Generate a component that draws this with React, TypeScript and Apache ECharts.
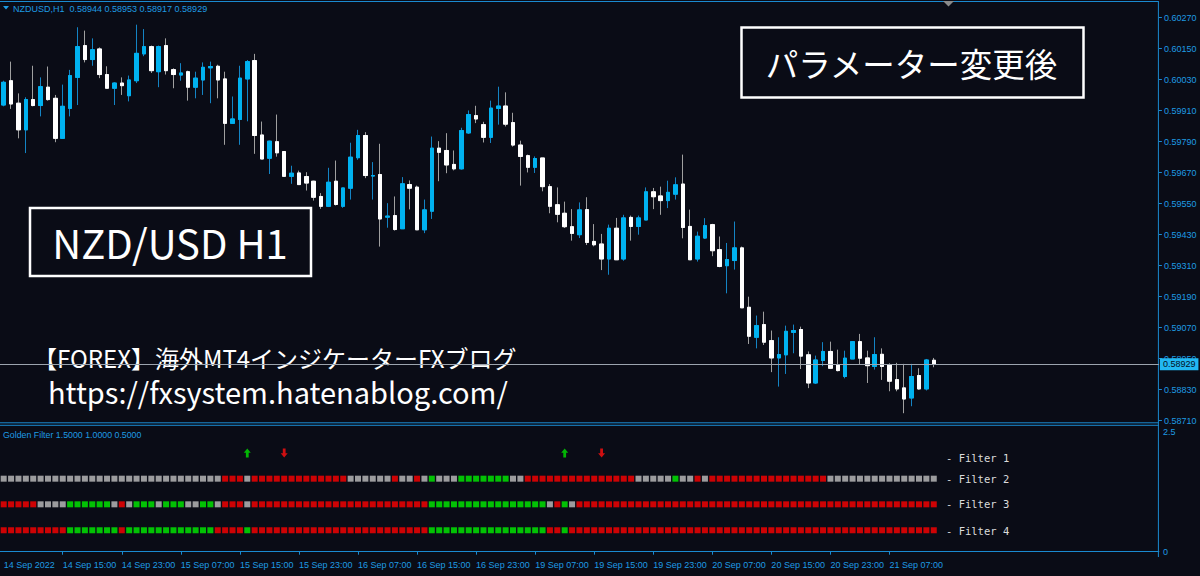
import React, { useEffect, useRef } from "react";
import * as echarts from "echarts";

// ---------- data ----------
const symbolName = "NZDUSD,H1";
const year = "2022";
const days = ["14 Sep", "15 Sep", "16 Sep", "19 Sep", "20 Sep", "21 Sep"];
const firstHour = 7;
const lastHour = 13;
const base = 0.5871;
const priceTickStep = 0.0012;
const priceTop = 0.6027;

const open = [
  0.59932, 0.60026, 0.59939, 0.59836, 0.59953, 0.5993, 0.60001, 0.59958, 0.59803, 0.59919,
  0.60039, 0.60162, 0.60108, 0.60149, 0.6005, 0.59997, 0.60017, 0.59968, 0.60026, 0.6013,
  0.60158, 0.60061, 0.60162, 0.60069, 0.60048, 0.60061, 0.60001, 0.60029, 0.60076, 0.60082,
  0.60033, 0.59861, 0.59876, 0.60033, 0.60104, 0.59816, 0.59726, 0.5979, 0.59752, 0.59656,
  0.59669, 0.59655, 0.59637, 0.59578, 0.5954, 0.59637, 0.5954, 0.5961, 0.59728, 0.59814,
  0.59657, 0.59663, 0.59498, 0.59504, 0.59453, 0.59624, 0.59614, 0.59449, 0.59521, 0.59765,
  0.59756, 0.59702, 0.59685, 0.59824, 0.59891, 0.59856, 0.59807, 0.59919, 0.59928, 0.59864,
  0.59777, 0.59736, 0.59691, 0.59727, 0.59616, 0.59546, 0.59513, 0.59461, 0.5943, 0.59527,
  0.59404, 0.59394, 0.59336, 0.59455, 0.59336, 0.59497, 0.59462, 0.59487, 0.59596, 0.5958,
  0.59562, 0.59587, 0.59626, 0.59462, 0.59336, 0.59417, 0.59469, 0.59372, 0.5931, 0.5933,
  0.59379, 0.59149, 0.59033, 0.59082, 0.5902, 0.58953, 0.58965, 0.59052, 0.59063, 0.58965,
  0.58856, 0.58943, 0.58978, 0.58927, 0.58881, 0.58949, 0.59016, 0.58953, 0.5892, 0.58967,
  0.58927, 0.58869, 0.58837, 0.58798, 0.58885, 0.58833, 0.58944,
];
const close = [
  0.6002, 0.59936, 0.59836, 0.59953, 0.5993, 0.60003, 0.59953, 0.59803, 0.59927, 0.60046,
  0.60158, 0.60108, 0.60146, 0.6005, 0.59997, 0.60017, 0.60007, 0.60029, 0.60132, 0.60158,
  0.60065, 0.60158, 0.60065, 0.6005, 0.60056, 0.60001, 0.60036, 0.60078, 0.60081, 0.60029,
  0.59861, 0.59878, 0.60036, 0.601, 0.59814, 0.59723, 0.59792, 0.59747, 0.59656, 0.59668,
  0.59624, 0.5963, 0.59575, 0.5954, 0.59633, 0.59547, 0.59611, 0.5973, 0.59814, 0.59659,
  0.59659, 0.59491, 0.59502, 0.5945, 0.59627, 0.5961, 0.59449, 0.59526, 0.59765, 0.59749,
  0.597, 0.59685, 0.59833, 0.59895, 0.59878, 0.59807, 0.5992, 0.59928, 0.59858, 0.59777,
  0.59733, 0.59691, 0.59725, 0.59616, 0.5954, 0.59509, 0.59461, 0.59435, 0.59526, 0.594,
  0.59391, 0.59336, 0.59455, 0.59333, 0.59495, 0.59462, 0.59495, 0.59596, 0.59577, 0.59562,
  0.59594, 0.59623, 0.59458, 0.59333, 0.59424, 0.59465, 0.59368, 0.59307, 0.59334, 0.59379,
  0.59147, 0.59037, 0.59078, 0.59014, 0.58953, 0.58966, 0.59056, 0.59059, 0.5896, 0.58856,
  0.58945, 0.58978, 0.58913, 0.58904, 0.58952, 0.59016, 0.58952, 0.58923, 0.58966, 0.5892,
  0.58863, 0.58833, 0.58794, 0.58881, 0.58833, 0.58945, 0.58929,
];
const high = [
  0.60026, 0.601, 0.59977, 0.59962, 0.60084, 0.60039, 0.60081, 0.59971, 0.60011, 0.60068,
  0.60233, 0.6022, 0.6019, 0.60155, 0.60082, 0.6002, 0.60039, 0.60046, 0.60243, 0.60226,
  0.60162, 0.60162, 0.6019, 0.60074, 0.60094, 0.60065, 0.60061, 0.60097, 0.601, 0.60088,
  0.60061, 0.59965, 0.60084, 0.60106, 0.6013, 0.59868, 0.59794, 0.59895, 0.59752, 0.59697,
  0.59678, 0.59672, 0.59639, 0.59591, 0.59689, 0.59717, 0.59611, 0.59786, 0.59836, 0.59827,
  0.59711, 0.59782, 0.59552, 0.59578, 0.59653, 0.5964, 0.5962, 0.59566, 0.5981, 0.59792,
  0.59823, 0.59756, 0.59844, 0.59911, 0.59929, 0.59867, 0.59949, 0.60003, 0.59981, 0.59902,
  0.59794, 0.5974, 0.59733, 0.59727, 0.59626, 0.59613, 0.59558, 0.59529, 0.59555, 0.59575,
  0.59471, 0.59433, 0.59469, 0.59495, 0.59507, 0.59504, 0.59504, 0.59613, 0.59611, 0.59616,
  0.59639, 0.59652, 0.5974, 0.59527, 0.59442, 0.59494, 0.59472, 0.59423, 0.59398, 0.59481,
  0.59384, 0.5919, 0.59117, 0.59132, 0.59059, 0.59033, 0.59078, 0.59082, 0.59074, 0.58978,
  0.58962, 0.59014, 0.59016, 0.58985, 0.58981, 0.59016, 0.59046, 0.58981, 0.59033, 0.5899,
  0.58932, 0.58934, 0.5893, 0.5893, 0.58913, 0.58949, 0.58953,
];
const low = [
  0.59927, 0.59917, 0.59803, 0.59746, 0.59927, 0.59888, 0.59949, 0.59788, 0.59801, 0.59888,
  0.59932, 0.60097, 0.60084, 0.60036, 0.59996, 0.59932, 0.59971, 0.59946, 0.60017, 0.60121,
  0.60056, 0.60001, 0.6005, 0.59997, 0.60026, 0.59949, 0.59958, 0.59971, 0.59939, 0.59958,
  0.59778, 0.5986, 0.59778, 0.59869, 0.59743, 0.59723, 0.59665, 0.59732, 0.59656, 0.59627,
  0.59624, 0.59601, 0.59562, 0.5953, 0.59537, 0.59543, 0.59534, 0.59566, 0.5972, 0.59649,
  0.59566, 0.59384, 0.59457, 0.59446, 0.59452, 0.59528, 0.59448, 0.59436, 0.59491, 0.59637,
  0.59668, 0.59679, 0.59682, 0.5982, 0.59862, 0.59787, 0.59785, 0.59856, 0.59849, 0.59771,
  0.5962, 0.59671, 0.59669, 0.59598, 0.59513, 0.59478, 0.59456, 0.59407, 0.59417, 0.5939,
  0.59385, 0.59293, 0.59275, 0.59332, 0.59329, 0.59407, 0.5943, 0.59487, 0.59529, 0.59507,
  0.59533, 0.59566, 0.59416, 0.59333, 0.59326, 0.59414, 0.59347, 0.59304, 0.59203, 0.59295,
  0.59147, 0.59007, 0.5899, 0.59003, 0.58898, 0.58842, 0.58891, 0.58971, 0.5891, 0.58836,
  0.58852, 0.58921, 0.5891, 0.58901, 0.58874, 0.58949, 0.58926, 0.58856, 0.58908, 0.58868,
  0.58824, 0.58824, 0.58739, 0.58766, 0.5883, 0.58827, 0.58917,
];

// Golden Filter states per bar: S = neutral (silver), G = up (green), R = down (red)
const filter2 = "SSSSSSSSSS SSSSSSSSSS SSSSSSSSSS RRRSRRRRRR RRRRRRRSSS SSSRSSRSGS SSGGGGGGGS SRRRRRRRRR RRRRRRSSSS SGSSRSRRRR RRRRRRRRRR RRSSSSSSSS SSSSSSS";
const filter3 = "RRRRRSSSSG GGGGGSRSGG GSGGGSSGGS RRRSRRRRRR RRRRRRRRRR RRRRRRRRGG GGGGGGGGGG GGGGSRGSRR RRRRRRRRRR RRRRRRRRRR RRRRRRRRRR RRRRRRRRRR RRRRRRR";
const filter4 = "RRRRRRRRRG GGGGGGRGGG GGGGGGGGGR RRRGRRRRRR RRRRRRRRRR RRRRRRRRGG GGGGGGGGGG GGGGRRGRRR RRRRRRRRRR RRRRRRRRRR RRRRRRRRRR RRRRRRRRRR RRRRRRR";
const filterLevels = [1.5, 1.0, 0.5];
const filter1Up = [33, 76];
const filter1Down = [38, 81];
const filter1Level = 2.0;
const filterNames = ["Filter 1", "Filter 2", "Filter 3", "Filter 4"];
const indicatorName = "Golden Filter";
const indicatorMax = 2.5;

const titleText = "パラメーター変更後";
const pairText = "NZD/USD H1";
const blogText = "【FOREX】海外MT4インジケーターFXブログ";
const urlText = "https://fxsystem.hatenablog.com/";

// ---------- derived ----------
const times: string[] = [];
days.forEach((d, k) => {
  const h0 = k === 0 ? firstHour : 0;
  const h1 = k === days.length - 1 ? lastHour : 23;
  for (let h = h0; h <= h1; h++) times.push(`${d} ${String(h).padStart(2, "0")}:00`);
});
const SLOTS = 157;
const slots = times.concat(Array.from({ length: SLOTS - times.length }, (_, i) => `~${i}`));
const toPts = (p: number) => Math.round((p - base) * 1e6) / 10;
const topPts = toPts(priceTop);
const intervalPts = Math.round(priceTickStep * 1e5);

const BG = "#0a0c16";
const BLUE = "#1e9be3";
const FRAME = "#1a8ad0";
const BULL = "#00b2f0";
const BULL_WICK = "#1484c4";
const BEAR = "#ffffff";
const BEAR_WICK = "#a0a0a0";
const stateColor: Record<string, string> = { S: "#c0c0c0", G: "#00f000", R: "#ff0000" };
const SMALL_FONT = "Liberation Sans, Arial, sans-serif";
const JP_FONT = "'Noto Sans CJK JP', 'Noto Sans', sans-serif";

const LEFT = -4.5;
const WIDTH = 1163.4;
const RIGHT_X = LEFT + WIDTH;

function buildOption(): any {
  const n = open.length;
  const wickData = open.map((o, i) => [toPts(o), toPts(close[i]), toPts(low[i]), toPts(high[i])]);
  const bodyData = open.map((o, i) => {
    const a = toPts(o);
    const c = toPts(close[i]);
    return [a, c, Math.min(a, c), Math.max(a, c)];
  });
  const last = n - 1;
  const lastClose = close[last];

  const rows = [filter2, filter3, filter4].map((s) => s.replace(/ /g, "").split(""));
  const rowOffsets = [-1.2, 0.5, 2.5];
  const filterSeries = rows.map((states, r) => ({
    type: "scatter",
    xAxisIndex: 1,
    yAxisIndex: 1,
    symbol: "rect",
    symbolSize: [6, 6],
    symbolOffset: [0, rowOffsets[r]],
    silent: true,
    data: states.map((s, i) => ({
      value: [i, filterLevels[r]],
      itemStyle: { color: stateColor[s] },
    })),
  }));

  const upArrow = "path://M4,0 L8,4.2 L5.6,4.2 L5.6,9 L2.4,9 L2.4,4.2 L0,4.2 Z";
  const downArrow = "path://M2.4,0 L5.6,0 L5.6,4.8 L8,4.8 L4,9 L0,4.8 L2.4,4.8 Z";

  const labelIdx = (idx: number) => idx === 0 || (idx % 8 === 0 && idx < times.length);
  const tickIdx = (idx: number) => idx > 0 && idx % 8 === 0 && idx < times.length;

  const header = `${symbolName}  ${[open[last], high[last], low[last], close[last]]
    .map((v) => v.toFixed(5))
    .join(" ")}`;
  const indHeader = `${indicatorName} ${filterLevels.map((v) => v.toFixed(4)).join(" ")}`;

  const line = (x1: number, y1: number, x2: number, y2: number) => ({
    type: "line",
    silent: true,
    shape: { x1, y1, x2, y2 },
    style: { stroke: FRAME, lineWidth: 1 },
  });
  const txt = (
    text: string,
    x: number,
    y: number,
    size: number,
    family: string,
    fill: string,
    align = "left"
  ) => ({
    type: "text",
    silent: true,
    x,
    y,
    style: {
      text,
      font: `${size}px ${family}`,
      fill,
      lineHeight: size,
      textAlign: align,
      align,
      textVerticalAlign: "middle",
      verticalAlign: "middle",
    },
  });

  const filterLabelY = [457.7, 478.5, 504.3, 530.5];

  return {
    animation: false,
    backgroundColor: BG,
    grid: [
      { left: LEFT, top: 17.7, width: WIDTH, height: 403 },
      { left: LEFT, top: 432, width: WIDTH, height: 119.7 },
    ],
    xAxis: [
      {
        type: "category",
        gridIndex: 0,
        data: slots,
        boundaryGap: true,
        show: false,
      },
      {
        type: "category",
        gridIndex: 1,
        data: slots,
        boundaryGap: true,
        position: "bottom",
        offset: 5,
        axisLine: { show: true, lineStyle: { color: FRAME, width: 1 } },
        axisTick: {
          show: true,
          alignWithLabel: true,
          interval: (idx: number) => tickIdx(idx),
          length: 3,
          lineStyle: { color: FRAME },
        },
        axisLabel: {
          interval: (idx: number) => labelIdx(idx),
          formatter: (v: string, idx: number) => (idx === 0 ? `${days[0]} ${year}` : v),
          align: "left",
          margin: 4,
          color: BLUE,
          fontFamily: SMALL_FONT,
          fontSize: 9,
        },
        splitLine: { show: false },
      },
    ],
    yAxis: [
      {
        type: "value",
        gridIndex: 0,
        position: "right",
        min: 0,
        max: topPts,
        interval: intervalPts,
        axisLine: { show: false },
        axisTick: { show: true, length: 3, lineStyle: { color: FRAME } },
        axisLabel: {
          margin: 5,
          color: BLUE,
          fontFamily: SMALL_FONT,
          fontSize: 9,
          formatter: (v: number) => (base + v / 1e5).toFixed(5),
        },
        splitLine: { show: false },
      },
      {
        type: "value",
        gridIndex: 1,
        position: "right",
        min: 0,
        max: indicatorMax,
        interval: indicatorMax,
        axisLine: { show: false },
        axisTick: { show: false },
        axisLabel: {
          margin: 4,
          color: BLUE,
          fontFamily: SMALL_FONT,
          fontSize: 9,
          formatter: (v: number) => String(v),
        },
        splitLine: { show: false },
      },
    ],
    series: [
      {
        type: "candlestick",
        xAxisIndex: 0,
        yAxisIndex: 0,
        barWidth: 4,
        silent: true,
        data: wickData,
        itemStyle: {
          color: BULL,
          color0: BEAR,
          borderColor: BULL_WICK,
          borderColor0: BEAR_WICK,
          borderWidth: 1,
        },
      },
      {
        type: "candlestick",
        xAxisIndex: 0,
        yAxisIndex: 0,
        barWidth: 4,
        silent: true,
        data: bodyData,
        itemStyle: {
          color: BULL,
          color0: BEAR,
          borderColor: BULL,
          borderColor0: BEAR,
          borderWidth: 1,
        },
        markLine: {
          silent: true,
          symbol: ["none", "none"],
          precision: 5,
          lineStyle: { color: "#9ca4ae", width: 1, type: "solid" },
          label: {
            show: true,
            position: "end",
            distance: 1,
            formatter: () => lastClose.toFixed(5),
            backgroundColor: "#22b8f2",
            color: "#04101c",
            fontFamily: SMALL_FONT,
            fontSize: 9,
            padding: [2, 3, 1, 3],
          },
          data: [{ yAxis: toPts(lastClose) }],
        },
      },
      ...filterSeries,
      {
        type: "scatter",
        xAxisIndex: 1,
        yAxisIndex: 1,
        symbol: upArrow,
        symbolSize: [7, 9],
        symbolOffset: [0, -3],
        silent: true,
        itemStyle: { color: "#00e000" },
        data: filter1Up.map((i) => [i, filter1Level]),
      },
      {
        type: "scatter",
        xAxisIndex: 1,
        yAxisIndex: 1,
        symbol: downArrow,
        symbolSize: [7, 9],
        symbolOffset: [0, -3],
        silent: true,
        itemStyle: { color: "#ff1010" },
        data: filter1Down.map((i) => [i, filter1Level]),
      },
    ],
    graphic: [
      line(0, 1.5, RIGHT_X, 1.5),
      line(0, 422.8, RIGHT_X, 422.8),
      line(0, 425.3, RIGHT_X, 425.3),
      line(RIGHT_X - 0.5, 1.5, RIGHT_X - 0.5, 557),
      {
        type: "polygon",
        silent: true,
        shape: { points: [[943, 1], [954, 1], [948.5, 6.5]] },
        style: { fill: "#8a8a8a" },
      },
      {
        type: "polygon",
        silent: true,
        shape: { points: [[3, 6], [9, 6], [6, 9.5]] },
        style: { fill: BLUE },
      },
      txt(header, 13, 8.5, 9, SMALL_FONT, BLUE),
      txt(indHeader, 3, 434.5, 8.8, SMALL_FONT, BLUE),
      ...filterNames.map((nm, k) =>
        txt(`- ${nm}`, 946, filterLabelY[k], 10.5, "'DejaVu Sans Mono', monospace", "#dcdcdc")
      ),
      {
        type: "rect",
        silent: true,
        shape: { x: 741.5, y: 27.5, width: 342, height: 70 },
        style: { fill: "none", stroke: "#ffffff", lineWidth: 2.5 },
      },
      txt(titleText, 911.5, 62.5, 32.5, JP_FONT, "#ffffff", "center"),
      {
        type: "rect",
        silent: true,
        shape: { x: 30, y: 208, width: 281, height: 68 },
        style: { fill: "none", stroke: "#ffffff", lineWidth: 2.5 },
      },
      txt(pairText, 170, 242, 40, JP_FONT, "#ffffff", "center"),
      txt(blogText, 33, 357, 24, JP_FONT, "#ffffff"),
      txt(urlText, 48, 390.5, 29, JP_FONT, "#ffffff"),
    ],
  };
}

export default function App() {
  const ref = useRef<HTMLDivElement>(null);
  useEffect(() => {
    if (!ref.current) return;
    const chart = echarts.init(ref.current, undefined, { renderer: "svg" });
    chart.setOption(buildOption());
    return () => chart.dispose();
  }, []);
  return (
    <div
      ref={ref}
      style={{ position: "fixed", left: 0, top: 0, width: 1200, height: 576, background: BG }}
    />
  );
}
